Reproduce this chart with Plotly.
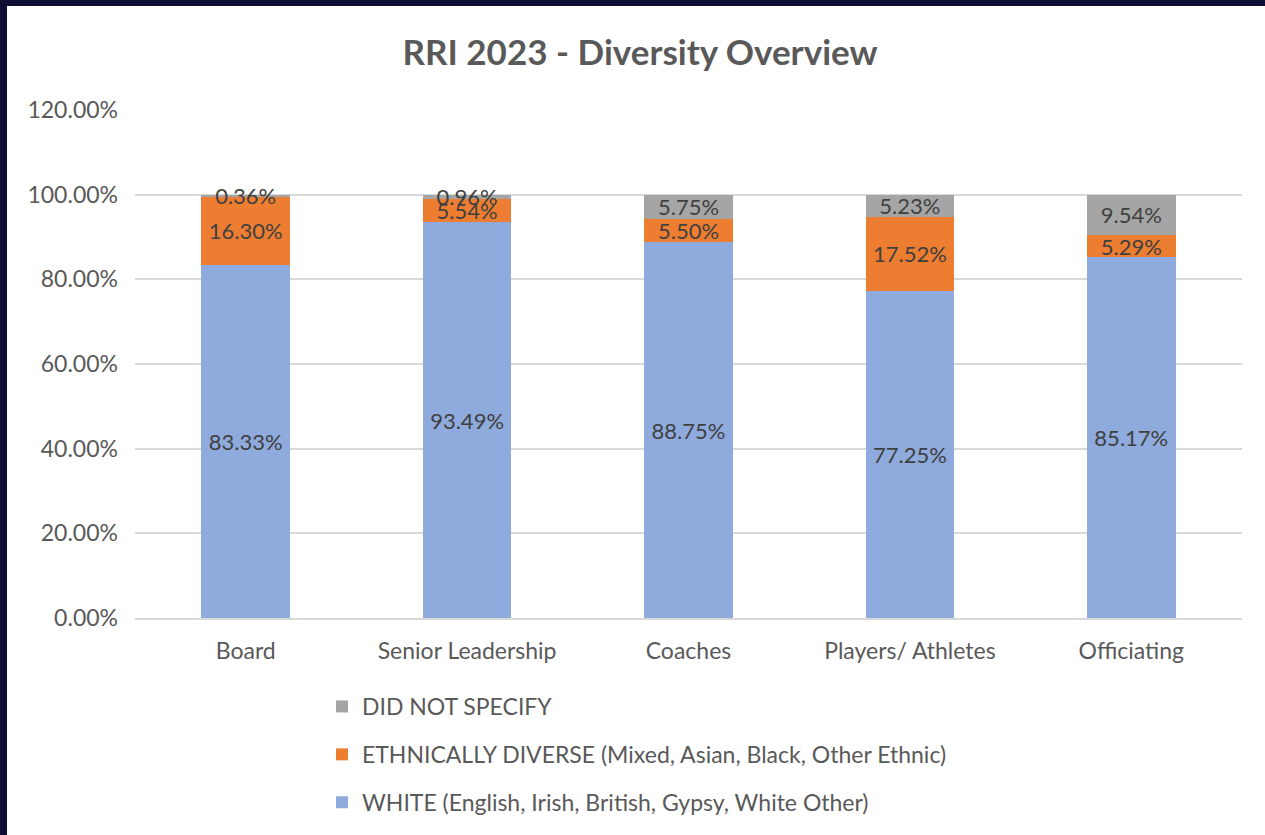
import plotly.graph_objects as go

categories = ["Board", "Senior Leadership", "Coaches", "Players/ Athletes", "Officiating"]
white = [83.33, 93.49, 88.75, 77.25, 85.17]
ethnically_diverse = [16.30, 5.54, 5.50, 17.52, 5.29]
did_not_specify = [0.36, 0.96, 5.75, 5.23, 9.54]

series_names = [
    "WHITE (English, Irish, British, Gypsy, White Other)",
    "ETHNICALLY DIVERSE (Mixed, Asian, Black, Other Ethnic)",
    "DID NOT SPECIFY",
]
y_ticks = [0, 20, 40, 60, 80, 100, 120]

W, H = 1265, 835
ML, MR, MT, MB = 135, 23, 110, 217
PW, PH = W - ML - MR, H - MT - MB

FONT = "Lato, 'Open Sans', sans-serif"
TXT = "#595959"
LBL = "#404040"

fig = go.Figure()
for name, vals, color, grp, rank in [
    (series_names[0], white, "#8FAADC", "g3", 3),
    (series_names[1], ethnically_diverse, "#ED7D31", "g2", 2),
    (series_names[2], did_not_specify, "#A5A5A5", "g1", 1),
]:
    fig.add_trace(go.Bar(
        x=categories, y=vals, name=name, legendgroup=grp, legendrank=rank,
        marker=dict(color=color, line=dict(width=0)),
        texttemplate="%{y:.2f}%", textposition="inside",
        insidetextanchor="middle", constraintext="none",
        textfont=dict(size=22, color=LBL, family=FONT),
    ))

# outer frame edges (top and left)
def px_x(p):
    return (p - ML) / PW

def px_y(p):
    return (H - MB - p) / PH

fig.add_shape(type="rect", xref="paper", yref="paper",
              x0=px_x(0), x1=px_x(W), y0=px_y(6), y1=px_y(0),
              fillcolor="#0E0E33", line_width=0, layer="above")
fig.add_shape(type="rect", xref="paper", yref="paper",
              x0=px_x(0), x1=px_x(7), y0=px_y(H), y1=px_y(0),
              fillcolor="#0E0E33", line_width=0, layer="above")

fig.update_layout(
    width=W, height=H,
    margin=dict(l=ML, r=MR, t=MT, b=MB, autoexpand=False),
    paper_bgcolor="white", plot_bgcolor="white",
    barmode="stack", bargap=0.6,
    uniformtext=dict(minsize=22, mode="show"),
    title=dict(text="<b>RRI 2023 - Diversity Overview</b>", x=640 / W, xanchor="center",
               y=1 - 53 / H, yanchor="middle",
               font=dict(size=35, color=TXT, family=FONT)),
    font=dict(family=FONT, color=TXT),
    showlegend=True,
    legend=dict(orientation="v", traceorder="grouped",
                xref="container", yref="container",
                x=322 / W, xanchor="left", y=1 - 685 / H, yanchor="top",
                font=dict(size=23, color=TXT, family=FONT),
                tracegroupgap=15, itemwidth=30, bgcolor="rgba(0,0,0,0)"),
    yaxis=dict(range=[0, 120], tickvals=y_ticks,
               ticktext=[f"{v:.2f}%" for v in y_ticks],
               showgrid=True, gridcolor="#D9D9D9", gridwidth=1.5,
               zeroline=False, showline=False, ticks="", automargin=False,
               tickfont=dict(size=23, color=TXT), ticklabelstandoff=16),
    xaxis=dict(showline=True, linecolor="#D9D9D9", linewidth=1.5,
               ticks="", automargin=False, ticklabelstandoff=12,
               tickfont=dict(size=23, color=TXT)),
)

fig.write_html("out.html")
